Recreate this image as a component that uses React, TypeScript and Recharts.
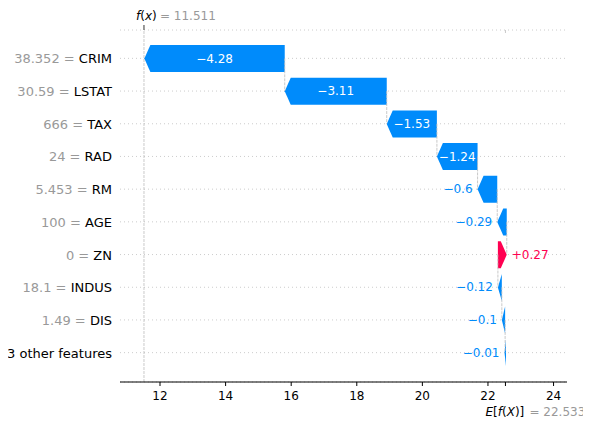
import React from 'react';
import { ComposedChart, Bar, XAxis, YAxis, CartesianGrid, ReferenceLine } from 'recharts';

const featureNames = ['CRIM', 'LSTAT', 'TAX', 'RAD', 'RM', 'AGE', 'ZN', 'INDUS', 'DIS', '3 other features'];
const featureValues = ['38.352', '30.59', '666', '24', '5.453', '100', '0', '18.1', '1.49', ''];
const shapValues = [-4.28, -3.11, -1.53, -1.24, -0.6, -0.29, 0.27, -0.12, -0.1, -0.01];
const baseValue = 22.533;
const fxValue = 11.511;
const xTicks = [12, 14, 16, 18, 20, 22, 24];
const xDomain: [number, number] = [10.78, 24.41];

const BLUE = '#008bfb';
const RED = '#ff0051';
const GRAY = '#999999';
const FONT = '"DejaVu Sans", sans-serif';

type Row = { name: string; fval: string; value: number; start: number; end: number; range: [number, number] };

// waterfall built from the base value at the bottom row upwards
const rows: Row[] = (() => {
  const out: Row[] = new Array(featureNames.length);
  let running = baseValue;
  for (let i = featureNames.length - 1; i >= 0; i--) {
    const start = running;
    const end = running + shapValues[i];
    out[i] = {
      name: featureNames[i],
      fval: featureValues[i],
      value: shapValues[i],
      start,
      end,
      range: [Math.min(start, end), Math.max(start, end)],
    };
    running = end;
  }
  return out;
})();

const textWidth = (s: string, size: number) =>
  Array.from(s).reduce((w, c) => w + (c >= '0' && c <= '9' ? 0.636 : c === '.' ? 0.318 : 0.838), 0) * size;

const fmt = (v: number) => (v < 0 ? '\u2212' : '+') + Math.abs(v).toString();

function ArrowShape(props: any) {
  const { x, y, width, height, payload } = props;
  const neg = payload.value < 0;
  const color = neg ? BLUE : RED;
  const w = Math.max(width, 1.5);
  const L = x + width / 2 - w / 2;
  const R = L + w;
  const head = Math.min(6, w);
  const cy = y + height / 2;
  const b = y + height;
  const d = neg
    ? `M${L},${cy} L${L + head},${y} L${R},${y} L${R},${b} L${L + head},${b} Z`
    : `M${L},${y} L${R - head},${y} L${R},${cy} L${R - head},${b} L${L},${b} Z`;
  const label = fmt(payload.value);
  const tw = textWidth(label, 12);
  let txt;
  if (tw < w) {
    txt = (
      <text x={L + w / 2} y={cy} textAnchor="middle" dominantBaseline="central" fill="#ffffff" fontSize={12} fontFamily={FONT}>
        {label}
      </text>
    );
  } else if (neg) {
    txt = (
      <text x={L - 5} y={cy} textAnchor="end" dominantBaseline="central" fill={color} fontSize={12} fontFamily={FONT}>
        {label}
      </text>
    );
  } else {
    txt = (
      <text x={R + 5} y={cy} textAnchor="start" dominantBaseline="central" fill={color} fontSize={12} fontFamily={FONT}>
        {label}
      </text>
    );
  }
  return (
    <g>
      <path d={d} fill={color} stroke="none" />
      {txt}
    </g>
  );
}

function YTick(props: any) {
  const { x, y, payload } = props;
  const row = rows.find((r) => r.name === payload.value);
  if (!row) return null;
  return (
    <text x={x} y={y} textAnchor="end" dominantBaseline="central" fontSize={13} fontFamily={FONT} style={{ whiteSpace: 'pre' }}>
      {row.fval !== '' && <tspan fill={GRAY}>{row.fval + ' = '}</tspan>}
      <tspan fill="#000000">{row.name}</tspan>
    </text>
  );
}

function XTick(props: any) {
  const { x, y, payload } = props;
  const v = payload.value;
  if (v === baseValue) {
    return (
      <g>
        <text x={x - 20} y={y + 28} fontSize={12} fontFamily={FONT} fill="#000000">
          <tspan fontStyle="italic">E</tspan>[<tspan fontStyle="italic">f</tspan>(<tspan fontStyle="italic">X</tspan>)]
        </text>
        <text x={x + 24} y={y + 28} fontSize={12} fontFamily={FONT} fill={GRAY}>
          {'= ' + baseValue.toFixed(3)}
        </text>
      </g>
    );
  }
  return (
    <text x={x} y={y + 12} textAnchor="middle" fontSize={12} fontFamily={FONT} fill="#000000">
      {v}
    </text>
  );
}

function TopTick(props: any) {
  const { x, y } = props;
  return (
    <g>
      <text x={x - 8} y={y - 3} fontSize={12} fontFamily={FONT} fill="#000000">
        <tspan fontStyle="italic">f</tspan>(<tspan fontStyle="italic">x</tspan>)
      </text>
      <text x={x + 16} y={y - 3} fontSize={12} fontFamily={FONT} fill={GRAY}>
        {'= ' + fxValue.toFixed(3)}
      </text>
    </g>
  );
}

export default function App() {
  const connectors = rows.slice(0, rows.length - 1).map((r, i) => (
    <ReferenceLine
      key={'c' + i}
      segment={[
        { x: r.start, y: r.name },
        { x: r.start, y: rows[i + 1].name },
      ]}
      stroke="#bbbbbb"
      strokeWidth={0.8}
      strokeDasharray="3 1"
    />
  ));
  return (
    <ComposedChart
      width={583}
      height={419}
      data={rows}
      layout="vertical"
      margin={{ top: 0, right: 24, bottom: 0, left: 0 }}
      style={{ fontFamily: FONT }}
    >
      <CartesianGrid horizontal vertical={false} stroke="#cccccc" strokeDasharray="1 3" />
      <XAxis
        type="number"
        domain={xDomain}
        allowDataOverflow
        ticks={[...xTicks, baseValue]}
        interval={0}
        height={45}
        tickSize={4}
        axisLine={{ stroke: '#000000' }}
        tickLine={{ stroke: '#000000' }}
        tick={<XTick />}
      />
      <XAxis
        xAxisId="top"
        orientation="top"
        type="number"
        domain={xDomain}
        allowDataOverflow
        ticks={[fxValue]}
        interval={0}
        height={22}
        tickSize={5}
        axisLine={false}
        tickLine={{ stroke: '#333333' }}
        tick={<TopTick />}
      />
      <YAxis
        type="category"
        dataKey="name"
        width={112}
        axisLine={false}
        tickLine={false}
        interval={0}
        padding={{ top: 12, bottom: 13 }}
        tick={<YTick />}
      />
      <YAxis yAxisId="frac" type="number" domain={[0, 1]} hide />
      <ReferenceLine x={fxValue} stroke="#bbbbbb" strokeWidth={0.8} strokeDasharray="3 1" />
      <ReferenceLine
        yAxisId="frac"
        segment={[
          { x: baseValue, y: 0 },
          { x: baseValue, y: 0.1 },
        ]}
        stroke="#bbbbbb"
        strokeWidth={0.8}
        strokeDasharray="3 1"
      />
      {connectors}
      <Bar dataKey="range" barSize={27} isAnimationActive={false} shape={<ArrowShape />} />
    </ComposedChart>
  );
}
